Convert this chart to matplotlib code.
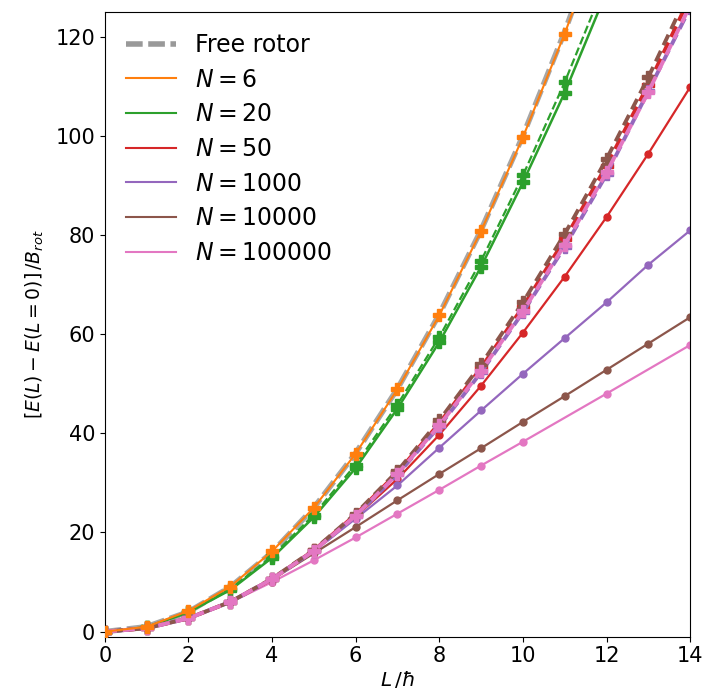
import numpy as np
import matplotlib
matplotlib.use("Agg")
import matplotlib.pyplot as plt
from matplotlib.lines import Line2D

# --- dati ---
L = [0, 1, 2, 3, 4, 5, 6, 7, 8, 9, 10, 11, 12, 13, 14]
L_pink = [0, 1, 2, 3, 4, 5, 6, 7, 8, 9, 10, 12, 14]

free_rotor = [0, 1, 4, 9, 16, 25, 36, 49, 64, 81, 100, 121, 144, 169, 196]

# linee continue
n6 = [0, 1.0, 4.2, 9.1, 16.2, 25.0, 35.9, 48.9, 63.8, 80.8, 99.7, 120.6, 143.5]
n20 = [0, 0.9, 3.9, 8.4, 14.9, 23.1, 33.0, 45.0, 58.4, 73.6, 90.6, 108.7, 129.0]
n50 = [0, 0.7, 2.7, 6.0, 10.6, 16.3, 23.2, 30.8, 39.7, 49.6, 60.3, 71.6, 83.6, 96.4, 109.8]
n1000 = [0, 0.7, 2.7, 6.0, 10.6, 16.2, 22.8, 29.5, 37.1, 44.6, 52.0, 59.2, 66.4, 74.0, 80.9]
n10000 = [0, 0.7, 2.7, 6.0, 10.5, 15.8, 21.1, 26.5, 31.8, 37.0, 42.3, 47.5, 52.8, 58.1, 63.4]
n100000 = [0, 0.7, 2.7, 5.9, 10.0, 14.4, 19.0, 23.8, 28.6, 33.5, 38.3, 48.0, 57.8]

# linee tratteggiate
n20_d = [0, 0.95, 4.0, 8.6, 15.2, 23.6, 33.7, 45.8, 59.4, 74.8, 92.0, 110.8, 131.5]
n50_d = [0, 0.7, 2.7, 6.0, 10.6, 16.4, 23.6, 32.1, 42.0, 53.2, 65.5, 79.1, 94.0, 110.3, 128.0]
n1000_d = [0, 0.7, 2.7, 6.0, 10.6, 16.3, 23.3, 31.7, 41.4, 52.3, 64.4, 77.6, 92.2, 109.0, 125.8]
n10000_d = [0, 0.7, 2.7, 6.0, 10.7, 16.5, 23.8, 32.4, 42.6, 53.9, 66.4, 80.2, 95.3, 111.8, 129.6]
n100000_d = [0, 0.7, 2.7, 6.0, 10.6, 16.3, 23.4, 31.8, 41.6, 52.6, 64.6, 78.0, 92.6, 108.8, 126.3]

labels = ["$N=6$", "$N=20$", "$N=50$", "$N=1000$", "$N=10000$", "$N=100000$"]
colors = ["C1", "C2", "C3", "C4", "C5", "C6"]

plt.rcParams["font.size"] = 15
fig = plt.figure(figsize=(7.28, 6.92), dpi=100)
ax = fig.add_axes([0.144, 0.080, 0.804, 0.903])

# rotore libero (sotto la linea arancione)
ax.plot(L, free_rotor, color="gray", lw=4, alpha=0.7, ls="--", dashes=(3, 1), zorder=2)

# continue
ax.plot(L[:len(n6)], n6, "-", color="C1", lw=1.5, marker="P", ms=9, zorder=3)
ax.plot(L[:len(n20)], n20, "-", color="C2", lw=1.8, marker="P", ms=9)
ax.plot(L, n50, "-", color="C3", lw=1.6, marker="o", ms=5)
ax.plot(L, n1000, "-", color="C4", lw=1.6, marker="o", ms=5)
ax.plot(L, n10000, "-", color="C5", lw=1.6, marker="o", ms=5)
ax.plot(L_pink, n100000, "-", color="C6", lw=1.6, marker="o", ms=5)

# tratteggiate
ax.plot(L[:len(n20_d)], n20_d, "--", color="C2", lw=1.6, marker="P", ms=9)
for vals, c, off in zip([n50_d, n1000_d, n10000_d, n100000_d],
                        ["C3", "C4", "C5", "C6"], [0, 1.5, 3, 4.5]):
    ax.plot(L, vals, color=c, lw=2.8, marker="P", ms=9,
            linestyle=(off, (3, 1.6)))

ax.set_xlim(0, 14)
ax.set_ylim(-1, 125)
ax.set_xticks([0, 2, 4, 6, 8, 10, 12, 14])
ax.set_yticks([0, 20, 40, 60, 80, 100, 120])
ax.set_xlabel(r"$L\,/\hbar$", fontsize=14.5, labelpad=2)
ax.set_ylabel(r"$[E(L)-E(L=0)]\,/B_{rot}$", fontsize=13.5, labelpad=7)

handles = [Line2D([], [], color="gray", lw=4, alpha=0.8, ls="--", dashes=(3, 1))]
handles += [Line2D([], [], color=c, lw=1.5) for c in colors]
ax.legend(handles, ["Free rotor"] + labels, loc="upper left", frameon=False,
          fontsize=17, handlelength=2.1, labelspacing=0.45, borderaxespad=0.5)

fig.savefig("out.png", dpi=100)
